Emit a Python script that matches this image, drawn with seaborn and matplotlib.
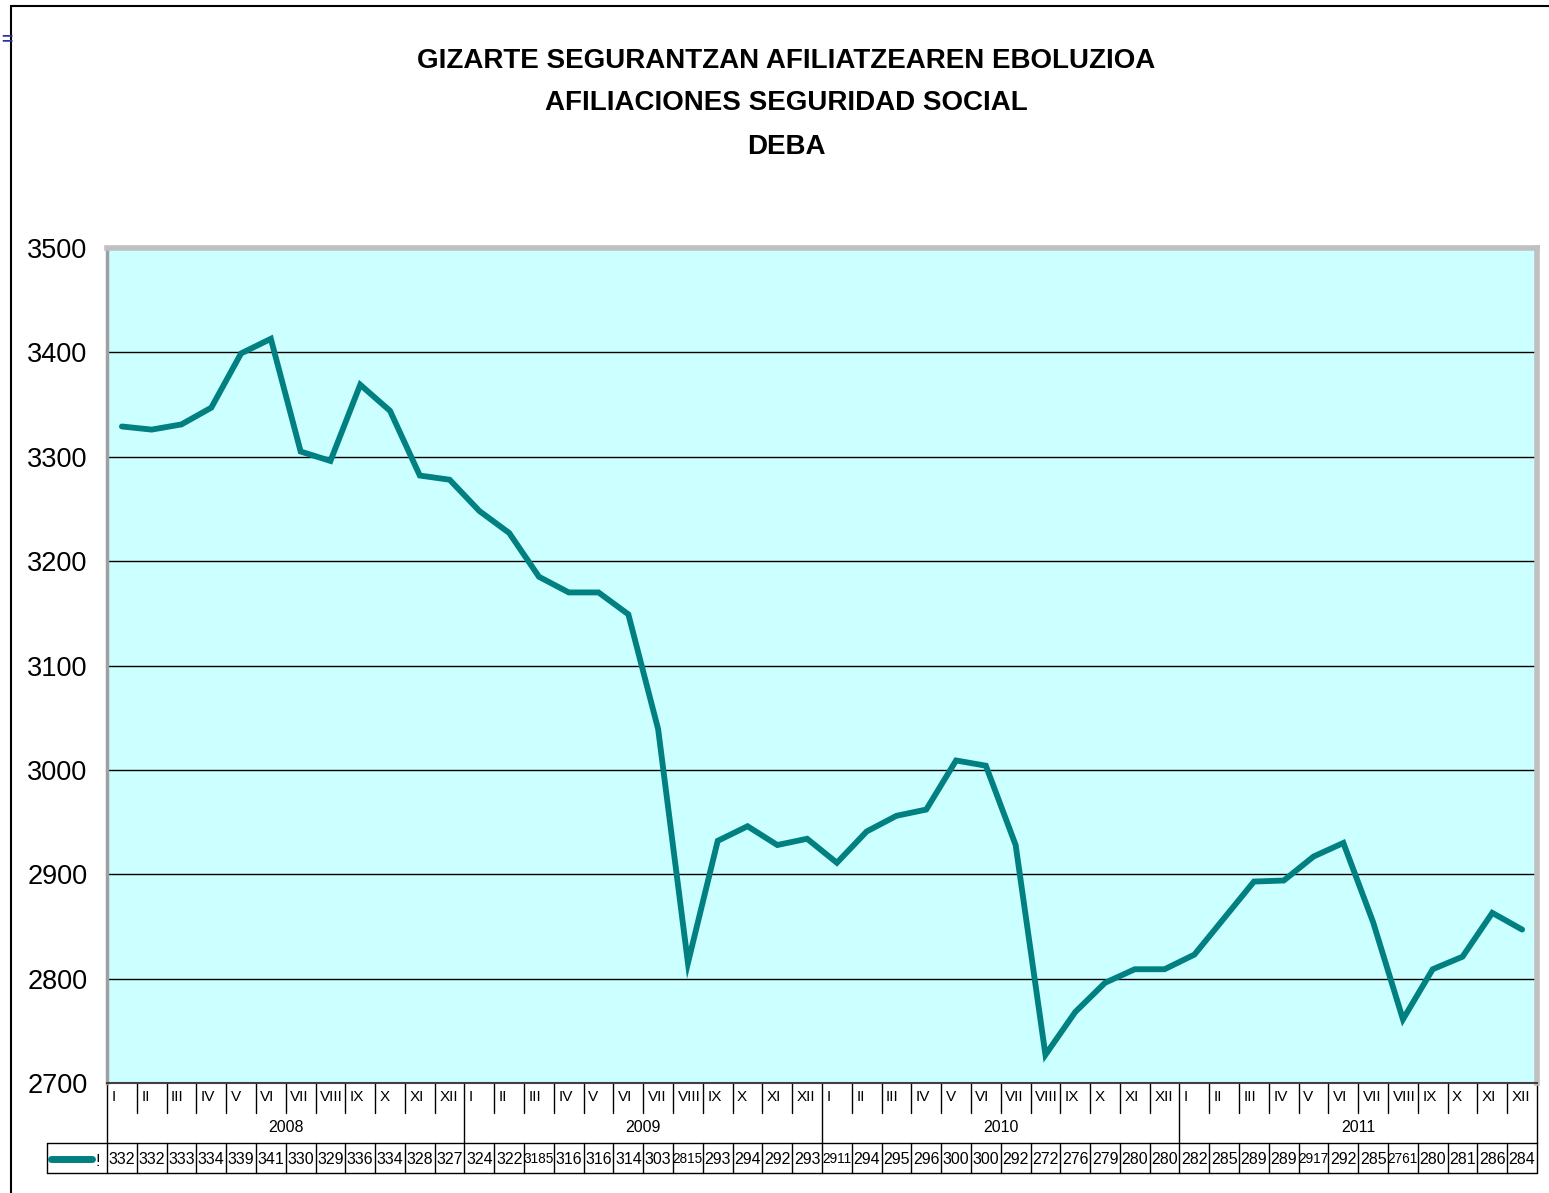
import numpy as np
import pandas as pd
import matplotlib
matplotlib.use("Agg")
import matplotlib.pyplot as plt
import seaborn as sns
from matplotlib import font_manager as fm
from matplotlib.lines import Line2D

# ---------------- data ----------------
title_lines = ["GIZARTE SEGURANTZAN AFILIATZEAREN EBOLUZIOA",
               "AFILIACIONES SEGURIDAD SOCIAL",
               "DEBA"]
month_names = ["I", "II", "III", "IV", "V", "VI", "VII", "VIII", "IX", "X", "XI", "XII"]
years = ["2008", "2009", "2010", "2011"]
values_2008 = [3329, 3326, 3331, 3347, 3399, 3413, 3305, 3296, 3369, 3344, 3282, 3278]
values_2009 = [3248, 3227, 3185, 3170, 3170, 3149, 3039, 2815, 2932, 2946, 2928, 2934]
values_2010 = [2911, 2941, 2956, 2962, 3009, 3004, 2928, 2727, 2768, 2796, 2809, 2809]
values_2011 = [2823, 2858, 2893, 2894, 2917, 2930, 2854, 2761, 2809, 2821, 2863, 2847]
table_2008 = ["332", "332", "333", "334", "339", "341", "330", "329", "336", "334", "328", "327"]
table_2009 = ["324", "322", "3185", "316", "316", "314", "303", "2815", "293", "294", "292", "293"]
table_2010 = ["2911", "294", "295", "296", "300", "300", "292", "272", "276", "279", "280", "280"]
table_2011 = ["282", "285", "289", "289", "2917", "292", "285", "2761", "280", "281", "286", "284"]
series_name = "!"
y_ticks = [2700, 2800, 2900, 3000, 3100, 3200, 3300, 3400, 3500]

values = values_2008 + values_2009 + values_2010 + values_2011
table_labels = table_2008 + table_2009 + table_2010 + table_2011
df = pd.DataFrame({
    "idx": np.arange(len(values)),
    "month": month_names * len(years),
    "year": np.repeat(years, len(month_names)),
    "value": values,
    "label": table_labels,
})

# ---------------- style ----------------
sns.set_style("white")
names = {f.name for f in fm.fontManager.ttflist}
narrow = "Liberation Sans Narrow" if "Liberation Sans Narrow" in names else "Liberation Sans"
plt.rcParams["font.family"] = [narrow, "DejaVu Sans"]
plt.rcParams["text.color"] = "black"
plt.rcParams["ytick.labelcolor"] = "black"
plt.rcParams["ytick.color"] = "black"

W, H = 1549, 1193
fig = plt.figure(figsize=(W / 100, H / 100), dpi=100)
fig.patch.set_facecolor("white")

px_l, px_r, px_t, px_b = 107, 1537, 248, 1083
ax = fig.add_axes([px_l / W, 1 - px_b / H, (px_r - px_l) / W, (px_b - px_t) / H])
ax.set_facecolor("#CCFFFF")

teal = "#008080"
sns.lineplot(data=df, x="idx", y="value", ax=ax, color=teal, linewidth=4.2,
             solid_joinstyle="miter", legend=False)

n = len(values)
ax.set_xlim(-0.5, n - 0.5)
ax.set_ylim(2700, 3500)
ax.set_yticks(y_ticks)
ax.set_yticklabels([str(t) for t in y_ticks], fontsize=19.5, color="black")
ax.tick_params(axis="y", direction="out", length=7, width=1, color="black", pad=7)
ax.set_xticks([])
ax.set_xlabel("")
ax.set_ylabel("")
ax.grid(axis="y", color="black", linewidth=1)
ax.set_axisbelow(True)
for s in ["top", "right"]:
    ax.spines[s].set_color("#C0C0C0")
    ax.spines[s].set_linewidth(4)
ax.spines["left"].set_color("#A0A0A0")
ax.spines["left"].set_linewidth(2.5)
ax.spines["bottom"].set_color("#404040")
ax.spines["bottom"].set_linewidth(1.5)

# ---------------- category table under the axes ----------------
tr = ax.get_xaxis_transform()

def fy(py):
    return (px_b - py) / (px_b - px_t)

def vline(x, y0, y1, lw=1.0, color="black"):
    ax.add_line(Line2D([x, x], [fy(y0), fy(y1)], transform=tr, color=color,
                       lw=lw, clip_on=False))

def hline(x0, x1, y, lw=1.0, color="black"):
    ax.add_line(Line2D([x0, x1], [fy(y), fy(y)], transform=tr, color=color,
                       lw=lw, clip_on=False))

row_month = (1083, 1113)
row_year_bottom = 1143
row_tab = (1143, 1173)
cell_w = (px_r - px_l) / n
leg_left = -0.5 - (px_l - 47) / cell_w

for i in range(n + 1):
    x = i - 0.5
    if i % 12 == 0:
        vline(x, row_month[0], row_year_bottom)
    else:
        vline(x, row_month[0], row_month[1])

for i, r in df.iterrows():
    ax.text(r["idx"] - 0.5 + 0.15, fy(1097), r["month"], transform=tr,
            ha="left", va="center", fontsize=11, clip_on=False)

for k, yr in enumerate(years):
    ax.text(k * 12 + 5.5, fy(1127), yr, transform=tr, ha="center", va="center",
            fontsize=11.5, clip_on=False)

# data table row
hline(leg_left, n - 0.5, row_tab[0])
hline(leg_left, n - 0.5, row_tab[1])
vline(leg_left, row_tab[0], row_tab[1])
for i in range(n + 1):
    vline(i - 0.5, row_tab[0], row_tab[1])
for i, r in df.iterrows():
    fs = 11.5 if len(r["label"]) <= 3 else 9.8
    ax.text(r["idx"], fy(1159), r["label"], transform=tr, ha="center", va="center",
            fontsize=fs, clip_on=False)

# legend key in the table
ax.add_line(Line2D([leg_left + 0.12, leg_left + 1.5], [fy(1159), fy(1159)], transform=tr,
                   color=teal, lw=5, solid_capstyle="round", clip_on=False))
ax.text(leg_left + 1.62, fy(1161), series_name, transform=tr, ha="left", va="center",
        fontsize=11.5, clip_on=False)

# ---------------- titles ----------------
for txt, py in zip(title_lines, [61, 103, 147]):
    fig.text(786 / W, 1 - py / H, txt, ha="center", va="center", fontsize=20,
             fontweight="bold")

# ---------------- chart frame ----------------
fig.add_artist(Line2D([11 / W, 11 / W], [1 - 6 / H, 0], transform=fig.transFigure,
                      color="black", lw=1.5))
fig.add_artist(Line2D([11 / W, 1], [1 - 6 / H, 1 - 6 / H], transform=fig.transFigure,
                      color="black", lw=1.5))
fig.text(1 / W, 1 - 40 / H, "=", ha="left", va="center", fontsize=14, color="#3030A0",
         fontweight="bold")

fig.savefig("out.png", dpi=100)
